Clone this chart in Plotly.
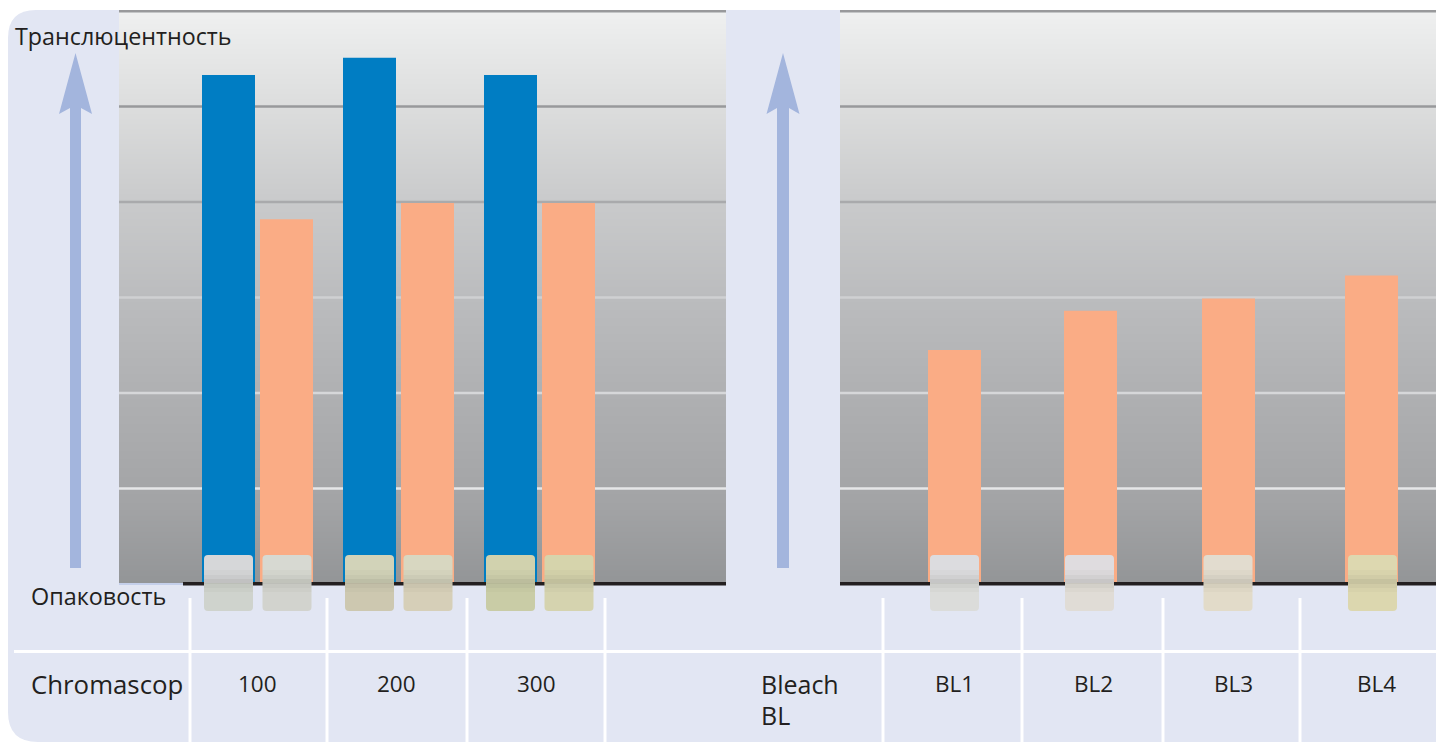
import plotly.graph_objects as go

# ---- data (scale: 0 = opaque baseline, 6 = top rule) ----
chromascop_labels = ["100", "200", "300"]
bleach_labels = ["BL1", "BL2", "BL3", "BL4"]
blue_values = [5.33, 5.51, 5.33]
orange_chromascop = [3.82, 3.99, 3.99]
orange_bleach = [2.45, 2.86, 2.99, 3.23]
grid_values = [1, 2, 3, 4, 5]
title_top = "Транслюцентность"
title_bottom = "Опаковость"
row_chromascop = "Chromascop"
row_bleach = ["Bleach", "BL"]

# ---- layout constants (pixels) ----
W, H = 1436, 742
BASE_PX, TOP_PX = 584, 11
UNIT = (BASE_PX - TOP_PX) / 6
Y_RANGE = [(BASE_PX - H) / UNIT, BASE_PX / UNIT]
BAR_W = 53
blue_x = [228.5, 369.5, 510.5]
orange_x = [286.5, 427.5, 568.5]
bleach_x = [954.5, 1090.5, 1228.5, 1371.5]
PANEL = "#e2e6f3"
ARROW = "#a3b5dd"
INK = "#231f20"
FONT = "Open Sans"
grad_stops = [0, 0.8, 1.9, 3, 4, 5, 6]
grad_cols = ["#939597", "#a2a3a5", "#aeafb1", "#bbbcbe", "#c9cacb", "#dcdddd", "#eff0f0"]
grid_cols = ["#e6e7e8", "#d6d7d9", "#cfd0d2", "#a9aaac", "#98999b"]
sw_x = [228.5, 287, 369.5, 428, 510.5, 569, 954.5, 1089.5, 1228, 1372.5]
sw_top = ["#d6d7d9", "#d7d9d2", "#d2d3b9", "#d8d7c1", "#d1d2ae", "#d6d4ac", "#dcdcdf", "#dfdcdf", "#e2dccf", "#ddd8b0"]
sw_bot = ["#cfd3cd", "#d2d3ce", "#cdc8b0", "#d6cfb8", "#c9cca6", "#d5d3af", "#dbdcda", "#e0dcd6", "#e2dbc9", "#dcd7af"]
v_lines = [190, 327, 467, 605, 883, 1022, 1163, 1300]

fig = go.Figure()
cs = [[v / 6, c] for v, c in zip(grad_stops, grad_cols)]
# backdrop gradient: one 1-px row per band, coloured through the colourscale
row_edges = [i / UNIT for i in range(0, BASE_PX - TOP_PX + 1)]
row_z = [[(a + b) / 2] for a, b in zip(row_edges[:-1], row_edges[1:])]
for x0, x1 in [(119, 726), (840, 1436)]:
    fig.add_trace(go.Heatmap(x=[x0, x1], y=row_edges, z=row_z, zmin=0, zmax=6,
                             colorscale=cs, showscale=False, hoverinfo="skip", xaxis="x", yaxis="y"))
for v, c in zip(grid_values, grid_cols):
    fig.add_trace(go.Scatter(x=[119, 726, None, 840, 1436], y=[v, v, None, v, v], mode="lines",
                             line=dict(color=c, width=2.4), hoverinfo="skip", xaxis="x", yaxis="y"))
fig.add_trace(go.Bar(x=blue_x, y=blue_values, width=BAR_W, marker=dict(color="#007dc3", line_width=0), xaxis="x", yaxis="y2"))
fig.add_trace(go.Bar(x=orange_x + bleach_x, y=orange_chromascop + orange_bleach, width=BAR_W,
                     marker=dict(color="#faac85", line_width=0), xaxis="x", yaxis="y2"))

shapes = []
def px_rect(x0, y0, x1, y1, color, layer="above"):
    shapes.append(dict(type="rect", xref="x", yref="y3", x0=x0, x1=x1, y0=y0, y1=y1,
                       fillcolor=color, line_width=0, layer=layer))
def px_path(path, color, layer="above"):
    shapes.append(dict(type="path", xref="x", yref="y3", path=path, fillcolor=color, line_width=0, layer=layer))

# rounded panel
px_path("M 8 38 Q 8 10 36 10 L 1436 10 L 1436 742 L 38 742 Q 8 742 8 712 Z", PANEL, "below")
# top rule, baseline
px_rect(119, 10, 726, 12.5, "#98999b")
px_rect(840, 10, 1436, 12.5, "#98999b")
px_rect(119, 583, 183, 585, "#c4cfea")
px_rect(183, 582, 726, 585.5, INK)
px_rect(840, 582, 1436, 585.5, INK)
# white rules
px_rect(14, 650, W, 653, "#ffffff")
for vx in v_lines:
    px_rect(vx - 1.5, 598, vx + 1.5, 742, "#ffffff")
# arrows
for cx, half in [(75.5, 5.5), (783, 6)]:
    px_path(f"M {cx} 53 L {cx+16.5} 114 L {cx+half} 108 L {cx+half} 568 L {cx-half} 568 L {cx-half} 108 L {cx-16.5} 114 Z", ARROW)
# shade tabs
for cx, t, b in zip(sw_x, sw_top, sw_bot):
    l, r = cx - 24.5, cx + 24.5
    px_path(f"M {l} 583 L {l} 559 Q {l} 555 {l+4} 555 L {r-4} 555 Q {r} 555 {r} 559 L {r} 583 Z", t)
    px_path(f"M {l} 583 L {l} 607 Q {l} 611 {l+4} 611 L {r-4} 611 Q {r} 611 {r} 607 L {r} 583 Z", b)
    for y0, y1, a in [(570, 575, .04), (575, 579, .09), (579, 584, .17), (584, 588, .09), (588, 592, .04)]:
        px_rect(l, y0, r, y1, f"rgba(90,90,80,{a})")

ann = []
def text(x, y, s, size, anchor="left"):
    ann.append(dict(x=x, y=y, xref="x", yref="y3", text=s, showarrow=False, xanchor=anchor, yanchor="middle",
                    font=dict(family=FONT, size=size, color=INK)))
text(13, 36, title_top, 23.3)
text(29, 596, title_bottom, 23.4)
text(29, 684, row_chromascop, 25.8)
for x, s in zip([257, 396, 536], chromascop_labels):
    text(x, 683, s, 22.5, "center")
for x, s in zip([954, 1093, 1233, 1376], bleach_labels):
    text(x, 683, s, 22.5, "center")
text(759, 684, row_bleach[0], 25)
text(759, 715, row_bleach[1], 25)

axis_off = dict(visible=False, fixedrange=True)
fig.update_layout(
    width=W, height=H, margin=dict(l=0, r=0, t=0, b=0), showlegend=False, barmode="overlay",
    paper_bgcolor="#ffffff", plot_bgcolor="rgba(0,0,0,0)",
    xaxis=dict(range=[0, W], domain=[0, 1], **axis_off),
    yaxis=dict(range=Y_RANGE, domain=[0, 1], **axis_off),
    yaxis2=dict(range=Y_RANGE, overlaying="y", **axis_off),
    yaxis3=dict(range=[H, 0], overlaying="y", **axis_off),
    shapes=shapes, annotations=ann,
)
fig.write_html("out.html", config=dict(displayModeBar=False),
               post_script="document.body.style.margin='0';document.body.style.overflow='hidden';")
